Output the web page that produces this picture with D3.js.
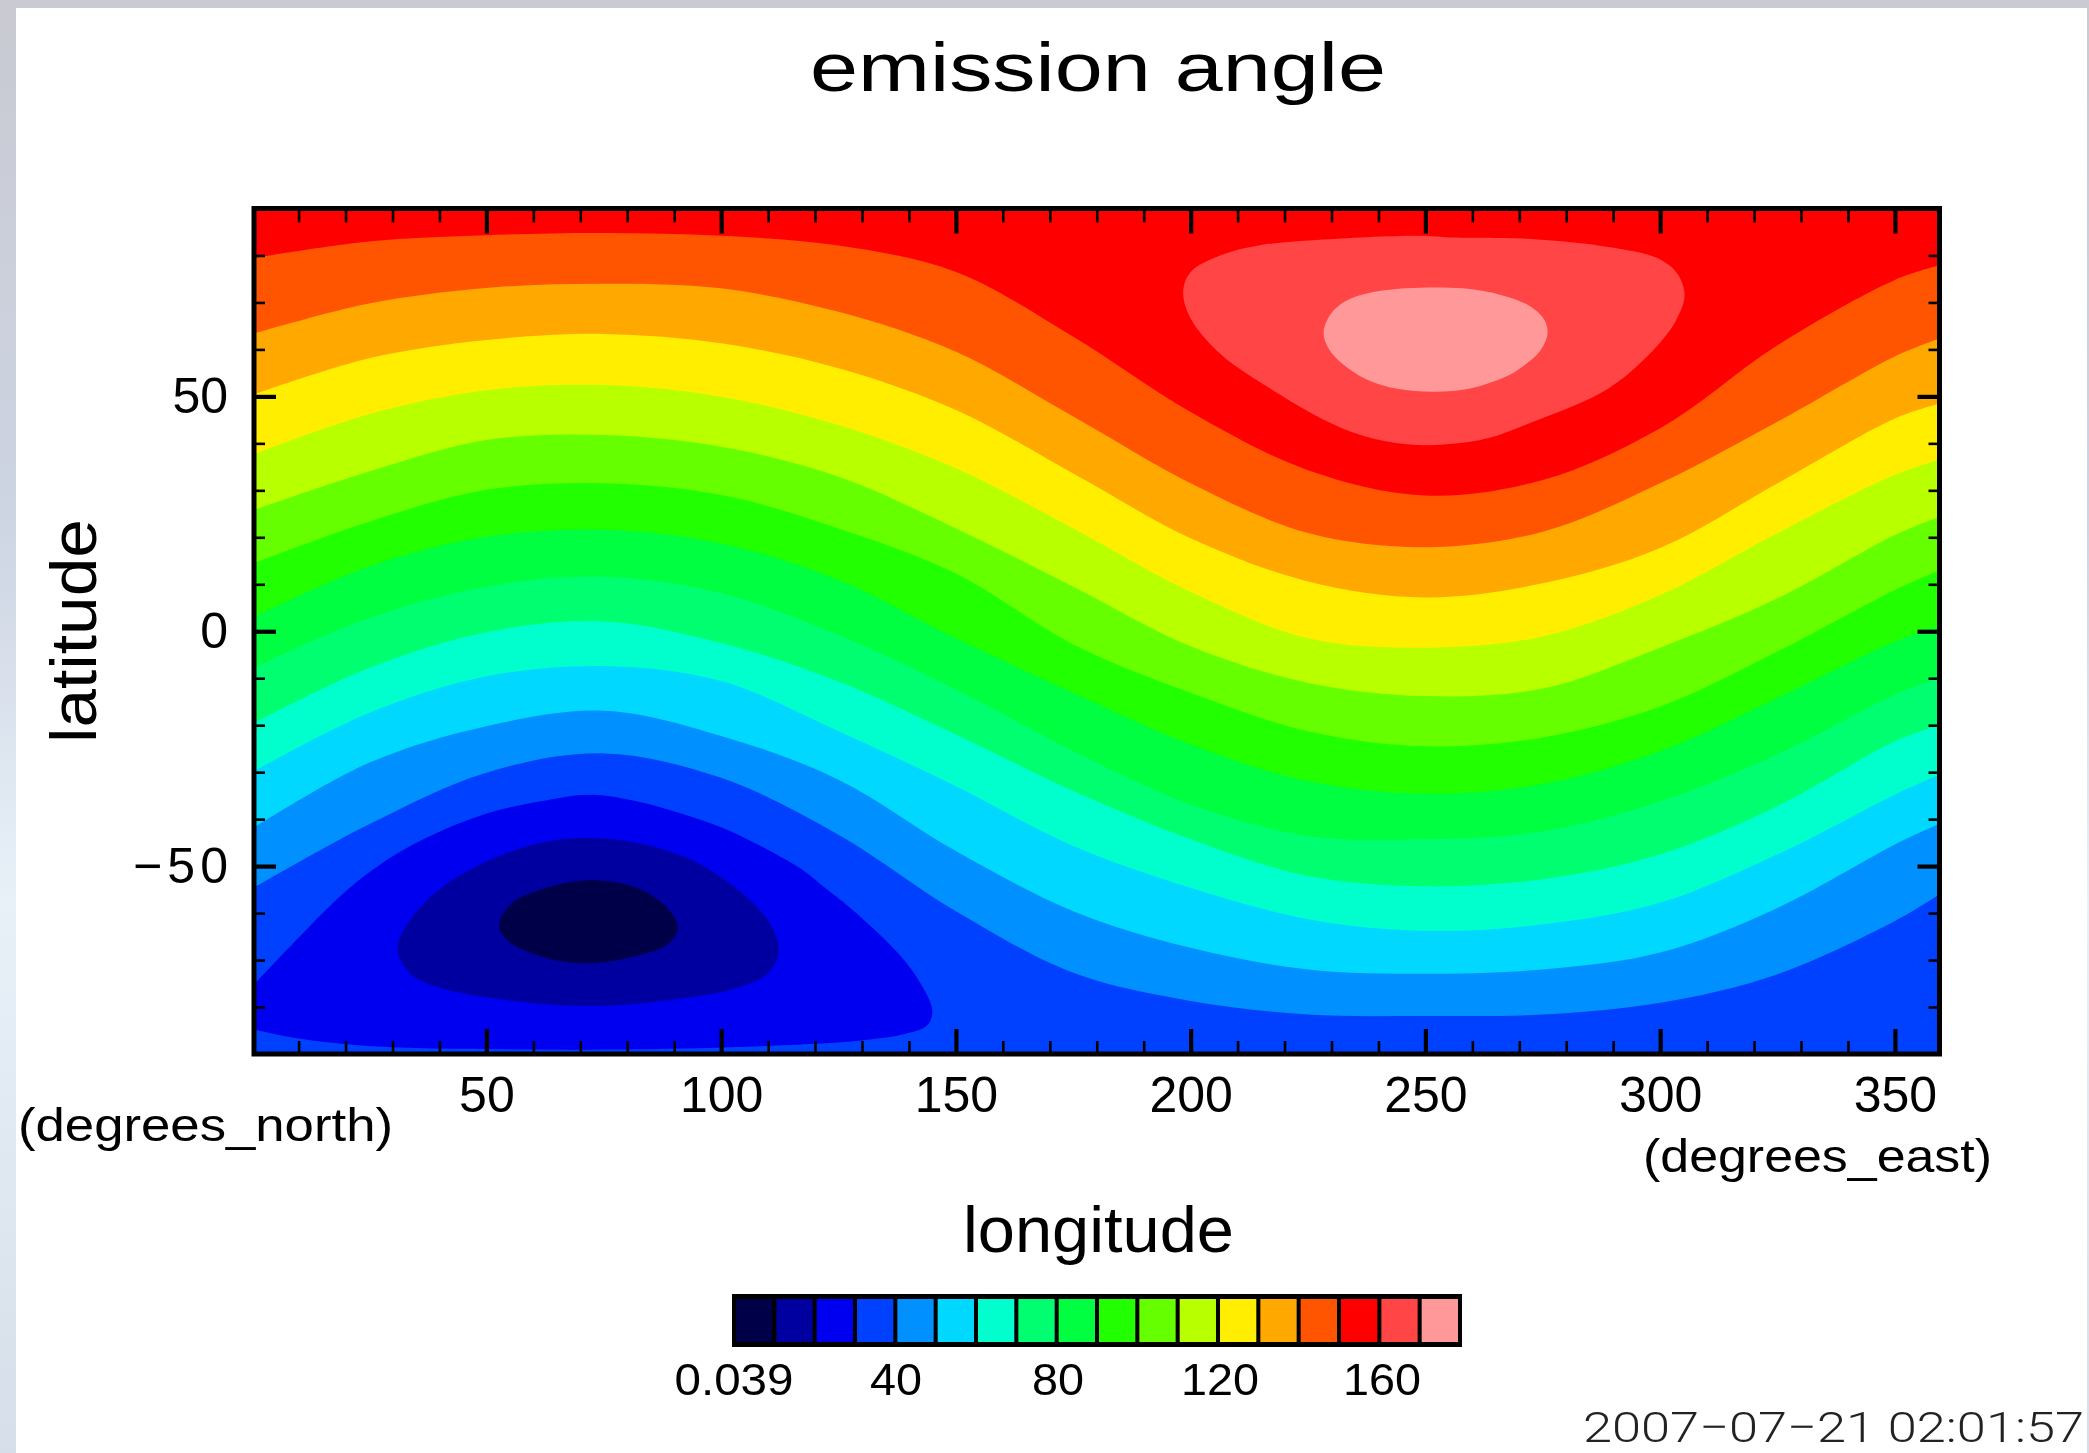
<!DOCTYPE html>
<html>
<head>
<meta charset="utf-8">
<script src="https://cdn.jsdelivr.net/npm/d3@7"></script>
<style>
  html, body { margin: 0; padding: 0; background: #fff; }
  svg { display: block; }
  text { font-family: "Liberation Sans", sans-serif; fill: #000; }
</style>
</head>
<body>
<svg class="chart"></svg>
<script>
var width = 2089;
var height = 1453;

// colour of each 10 degree band, lowest first
var levels = ['0.039', '10', '20', '30', '40', '50', '60', '70', '80', '90', '100', '110', '120', '130', '140', '150', '160', '170'];
var band_colors = ['#000048', '#0000a0', '#0000f0', '#0040ff', '#0090ff', '#00d8ff', '#00ffcc', '#00ff70',
  '#00ff40', '#22ff00', '#66ff00', '#b8ff00', '#ffee00', '#ffa800', '#ff5500', '#ff0000', '#ff4444', '#ff9999'];
var legend_labels = ['0.039', '40', '80', '120', '160'];

var x_major = [50, 100, 150, 200, 250, 300, 350];
var x_minor = [10, 20, 30, 40, 60, 70, 80, 90, 110, 120, 130, 140, 160, 170, 180, 190, 210, 220, 230, 240, 260, 270, 280, 290, 310, 320, 330, 340];
var y_major = [-50, 0, 50];
var y_minor = [-80, -70, -60, -40, -30, -20, -10, 10, 20, 30, 40, 60, 70, 80];

var lons = [0.5, 25, 50, 75, 100, 125, 150, 175, 200, 225, 250, 275, 300, 325, 350, 359.5];

// latitude of each open contour at those longitudes
var lat150 = [79.5, 83.0, 84.3, 84.8, 84.2, 82.1, 76.5, 62.7, 46.7, 34.3, 28.9, 32.2, 43.2, 60.9, 74.8, 77.9];
var lat140 = [63.4, 69.8, 73.1, 74.0, 73.0, 68.0, 59.5, 45.7, 31.5, 20.9, 17.9, 21.2, 31.5, 44.6, 58.5, 62.3];
var lat130 = [50.4, 58.1, 62.0, 63.3, 61.3, 56.0, 47.1, 33.6, 19.8, 10.6, 7.2, 10.2, 17.7, 31.5, 45.3, 48.5];
var lat120 = [37.7, 46.2, 51.3, 52.4, 49.9, 43.9, 34.7, 21.9, 8.4, -1.5, -3.5, -1.1, 7.7, 20.9, 33.3, 36.5];
var lat110 = [25.8, 34.0, 40.7, 41.8, 39.3, 32.9, 21.9, 9.5, -3.2, -11.0, -13.8, -12.2, -3.5, 7.0, 20.5, 24.4];
var lat100 = [14.5, 23.3, 30.1, 31.5, 29.0, 21.9, 12.3, -2.8, -13.1, -21.3, -24.5, -22.6, -16.0, -4.3, 8.8, 13.0];
var lat90 = [3.1, 13.8, 20.1, 21.6, 18.7, 10.9, -1.5, -13.1, -24.1, -31.9, -34.6, -32.5, -25.5, -14.2, -2.2, 1.0];
var lat80 = [-7.8, 2.8, 9.5, 11.6, 8.1, -0.8, -12.4, -25.5, -36.9, -43.6, -44.3, -42.6, -36.2, -26.2, -13.5, -9.9];
var lat70 = [-19.5, -7.8, -0.2, 2.1, -2.5, -10.7, -22.0, -34.0, -44.3, -52.1, -54.3, -52.8, -47.5, -37.2, -23.4, -20.0];
var lat60 = [-29.8, -17.4, -9.6, -7.4, -10.6, -21.3, -33.0, -45.7, -54.6, -61.3, -63.8, -62.4, -57.8, -47.5, -34.8, -30.5];
var lat50 = [-41.8, -28.0, -20.2, -16.9, -22.3, -31.6, -46.8, -59.6, -67.4, -72.0, -72.9, -72.0, -68.4, -58.9, -45.4, -41.0];
var lat40 = [-54.6, -41.1, -30.1, -26.0, -31.2, -43.3, -59.6, -72.7, -78.7, -81.6, -81.9, -81.6, -79.1, -73.0, -61.7, -56.0];

// closed contours as [lon, lat], ring30 runs off the left edge of the plot
var ring30 = [[-6, -82.0], [0.5, -75.2], [8.6, -66.7], [20.9, -54.6], [33.1, -46.1], [49.4, -39.0], [61.6, -36.2], [71.8, -34.8], [82.0, -36.2],
  [98.3, -41.1], [106.0, -44.5], [116.9, -50.5], [122.0, -54.5], [127.5, -58.9], [137.3, -68.1], [142.2, -74.5], [145.0, -80.9], [143.8, -84.0], [138.9, -85.8],
  [129.1, -87.2], [116.9, -88.0], [82.0, -89.0], [53.5, -89.0], [24.9, -88.3], [8.6, -86.5], [0.5, -84.8], [-6, -83.5]];
var ring20 = [[31.1, -67.7], [33.1, -62.4], [39.6, -55.3], [49.4, -49.3], [61.6, -45.0], [71.8, -44.0], [82.0, -45.0], [94.2, -48.9],
  [104.8, -56.0], [110.5, -62.4], [112.3, -68.1], [109.7, -73.0], [102.4, -76.2], [90.1, -78.4], [77.9, -79.6], [65.7, -79.6],
  [53.5, -78.4], [41.2, -76.2], [33.9, -73.0]];
var ring10 = [[52.7, -62.8], [55.1, -58.2], [61.6, -55.0], [71.8, -53.0], [82.0, -54.6], [88.5, -58.9], [90.8, -63.1], [88.5, -66.7],
  [82.0, -69.1], [73.8, -70.6], [65.7, -70.2], [59.2, -68.4], [54.7, -66.0]];
var ring160 = [[198.4, 72.3], [200.0, 76.5], [206.5, 80.1], [214.7, 82.2], [226.9, 83.3], [248.2, 84.2], [256.4, 83.8], [272.7, 83.5],
  [289.0, 81.8], [299.5, 79.4], [303.6, 76.2], [305.2, 71.6], [303.6, 66.6], [299.5, 60.9], [289.0, 51.7], [272.7, 44.5], [263.7, 41.2],
  [254.7, 39.8], [246.0, 39.8], [237.0, 41.5], [228.0, 45.2], [218.8, 50.5], [206.6, 58.8], [200.0, 66.6]];
var ring170 = [[228.3, 63.5], [229.8, 67.5], [233.0, 70.3], [238.0, 72.0], [245.8, 73.0], [252.0, 73.2], [258.0, 73.0], [266.1, 71.6],
  [272.3, 69.2], [275.4, 66.2], [276.0, 63.3], [274.3, 59.5], [271.3, 56.8], [267.8, 54.5], [259.6, 51.7], [252.0, 51.0], [244.0, 51.6],
  [237.5, 53.6], [232.5, 56.8], [229.5, 60.0]];

var open_contours = [lat150, lat140, lat130, lat120, lat110, lat100, lat90, lat80, lat70, lat60, lat50, lat40];
var open_colors = ['#ff5500', '#ffa800', '#ffee00', '#b8ff00', '#66ff00', '#22ff00', '#00ff40', '#00ff70', '#00ffcc', '#00d8ff', '#0090ff', '#0040ff'];
var closed_contours = [ring30, ring20, ring10, ring160, ring170];
var closed_colors = ['#0000f0', '#0000a0', '#000048', '#ff4444', '#ff9999'];

var margin = {'top': 208.5, 'right': 149.5, 'bottom': 399, 'left': 254};

var chart = d3.select(".chart")
    .attr("width", width)
    .attr("height", height);

var defs = chart.append('defs');

var strip = defs.append('linearGradient')
    .attr('id', 'strip')
    .attr('x1', 0).attr('y1', 0).attr('x2', 0).attr('y2', 1);
strip.selectAll('stop')
    .data([[0, '#c9cad2'], [0.35, '#cdd4e2'], [0.62, '#e8f0f8'], [1, '#d6dee9']])
    .join('stop')
    .attr('offset', function(d){ return d[0]; })
    .attr('stop-color', function(d){ return d[1]; });

// the reference is a small raster blown up, so everything is a bit soft
defs.append('filter')
    .attr('id', 'soft')
    .attr('filterUnits', 'userSpaceOnUse')
    .attr('x', 0).attr('y', 0).attr('width', width).attr('height', height)
    .append('feGaussianBlur')
    .attr('stdDeviation', 0.7);

defs.append('clipPath')
    .attr('id', 'plot')
    .append('rect')
    .attr('x', margin.left)
    .attr('y', margin.top)
    .attr('width', width - margin.left - margin.right)
    .attr('height', height - margin.top - margin.bottom);

// page border behind the white sheet
chart.append('rect').attr('width', width).attr('height', height).attr('fill', 'url(#strip)');
chart.append('rect').attr('x', 16).attr('y', 8).attr('width', 2071).attr('height', height - 8).attr('fill', '#fff');

var root = chart.append('g').attr('filter', 'url(#soft)');

var x = d3.scaleLinear()
    .domain([0.5, 359.5])
    .range([margin.left, width - margin.right]);

var y = d3.scaleLinear()
    .domain([-90, 90])
    .range([height - margin.bottom, margin.top]);

var plot = root.append('g').attr('clip-path', 'url(#plot)');

// top band, everything else is painted over it
plot.append('rect')
    .attr('x', margin.left)
    .attr('y', margin.top)
    .attr('width', width - margin.left - margin.right)
    .attr('height', height - margin.top - margin.bottom)
    .attr('fill', band_colors[15]);

var area = d3.area()
    .x(function(d, i){ return x(lons[i]); })
    .y0(y(-90))
    .y1(function(d){ return y(d); })
    .curve(d3.curveCatmullRom);

plot.selectAll('.band')
    .data(open_contours)
    .join('path')
    .attr('class', 'band')
    .attr('d', area)
    .attr('fill', function(d, i){ return open_colors[i]; });

var ring_line = d3.line()
    .x(function(d){ return x(d[0]); })
    .y(function(d){ return y(d[1]); })
    .curve(d3.curveCatmullRomClosed);

plot.selectAll('.ring')
    .data(closed_contours)
    .join('path')
    .attr('class', 'ring')
    .attr('d', ring_line)
    .attr('fill', function(d, i){ return closed_colors[i]; });

// ticks on all four sides, pointing inward
var add_axis = function(axis, tx, ty, values, size, stroke, labels, padding){
  var g = root.append('g')
      .attr('transform', 'translate(' + tx + ',' + ty + ')')
      .call(axis.tickValues(values).tickSize(size).tickPadding(padding || 3));
  g.select('.domain').remove();
  g.selectAll('line').attr('stroke', '#000').attr('stroke-width', stroke);
  if (labels) {
    g.selectAll('text').style('font-size', '50px').attr('fill', '#000');
  } else {
    g.selectAll('text').remove();
  }
  g.attr('font-family', null).attr('font-size', null);
  return g;
};

var left = margin.left;
var right = width - margin.right;
var top_y = margin.top;
var bottom = height - margin.bottom;

add_axis(d3.axisBottom(x), 0, bottom, x_minor, -13, 2.6);
add_axis(d3.axisBottom(x), 0, bottom, x_major, -25, 4.2, true, 22);
add_axis(d3.axisTop(x), 0, top_y, x_minor, -14, 2.6);
add_axis(d3.axisTop(x), 0, top_y, x_major, -25, 4.2);
var y_labels = add_axis(d3.axisLeft(y), left, 0, y_major, -22, 4.2, true, 26);
add_axis(d3.axisLeft(y), left, 0, y_minor, -11, 2.6);
add_axis(d3.axisRight(y), right, 0, y_minor, -11, 2.6);
add_axis(d3.axisRight(y), right, 0, y_major, -22, 4.2);

// the minus sign is long in the original
y_labels.selectAll('text')
    .filter(function(d){ return d < 0; })
    .attr('textLength', 95)
    .attr('lengthAdjust', 'spacing');

root.append('rect')
    .attr('x', left)
    .attr('y', top_y)
    .attr('width', right - left)
    .attr('height', bottom - top_y)
    .attr('fill', 'none')
    .attr('stroke', '#000')
    .attr('stroke-width', 5);

// colour bar
var legend_x = d3.scaleBand()
    .domain(levels)
    .range([734, 1460])
    .paddingInner(0.1)
    .paddingOuter(0.05);

root.append('rect')
    .attr('x', 732).attr('y', 1294)
    .attr('width', 730).attr('height', 53)
    .attr('fill', '#000');

root.selectAll('.cell')
    .data(levels)
    .join('rect')
    .attr('class', 'cell')
    .attr('x', function(d){ return legend_x(d); })
    .attr('y', 1299)
    .attr('width', legend_x.bandwidth())
    .attr('height', 43)
    .attr('fill', function(d, i){ return band_colors[i]; });

var legend_pos = d3.scalePoint()
    .domain(legend_labels)
    .range([734, 1382]);

var legend_widths = [119, 52, 52, 78, 78];

root.selectAll('.legend-label')
    .data(legend_labels)
    .join('text')
    .attr('class', 'legend-label')
    .attr('x', function(d){ return legend_pos(d); })
    .attr('y', 1395)
    .attr('text-anchor', 'middle')
    .attr('textLength', function(d, i){ return legend_widths[i]; })
    .attr('lengthAdjust', 'spacingAndGlyphs')
    .style('font-size', '44px')
    .text(function(d){ return d; });

// titles and units, stretched to the widths in the picture
var put_text = function(str, tx, ty, size, len){
  return root.append('text')
      .attr('x', tx)
      .attr('y', ty)
      .attr('textLength', len)
      .attr('lengthAdjust', 'spacingAndGlyphs')
      .style('font-size', size + 'px')
      .text(str);
};

put_text('emission angle', 810, 91, 68, 576);
put_text('longitude', 963, 1252, 64, 271);
put_text('(degrees_north)', 18, 1141, 46, 375);
put_text('(degrees_east)', 1643, 1172, 46, 349);
put_text('2007\u221207\u221221 02:01:57', 1583, 1442, 43, 501)
    .style('font-family', 'Roboto, "Liberation Sans", sans-serif')
    .style('font-weight', 300)
    .style('fill', '#222');

root.append('text')
    .attr('transform', 'translate(96,743) rotate(-90)')
    .attr('textLength', 224)
    .attr('lengthAdjust', 'spacingAndGlyphs')
    .style('font-size', '64px')
    .text('latitude');
</script>
</body>
</html>
